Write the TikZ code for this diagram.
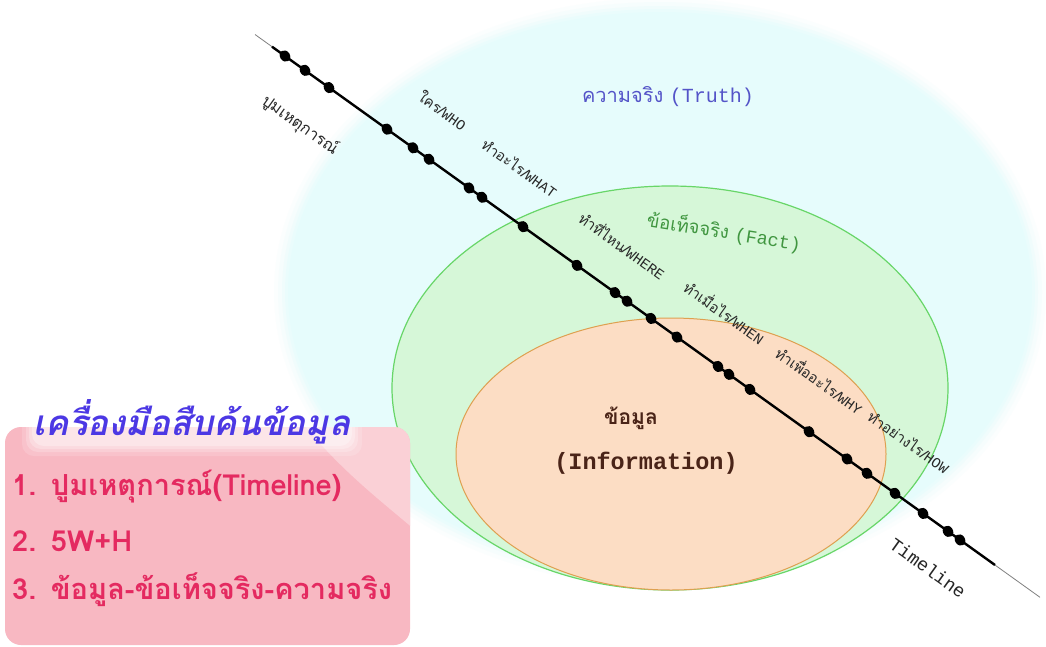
\documentclass[tikz,border=0pt]{standalone}
\usepackage{fontspec}
\setmainfont{Liberation Sans}
\newfontfamily\thaif[Script=Thai]{Loma}
\newfontfamily\monof{Liberation Mono}
\usetikzlibrary{shapes.geometric}
\definecolor{truthfill}{RGB}{230,252,252}
\definecolor{factfill}{RGB}{214,247,216}
\definecolor{factline}{RGB}{104,214,104}
\definecolor{infofill}{RGB}{252,221,196}
\definecolor{infoline}{RGB}{222,160,80}
\definecolor{truthtxt}{RGB}{84,84,200}
\definecolor{facttxt}{RGB}{64,150,64}
\definecolor{infotxt}{RGB}{74,36,24}
\definecolor{labtxt}{RGB}{40,40,40}
\definecolor{boxfill}{RGB}{248,184,194}
\definecolor{boxlight}{RGB}{251,214,220}
\definecolor{titletxt}{RGB}{76,56,228}
\definecolor{itemtxt}{RGB}{228,42,96}
\tikzset{
  dotnode/.style={ellipse, fill=black, inner sep=0pt, minimum width=12pt, minimum height=10pt, rotate=-55},
  wlabel/.style={text=labtxt, rotate=-35.6, inner sep=0pt, font=\fontsize{14.5}{16}\selectfont},
  itemtext/.style={text=itemtxt, anchor=west, inner sep=0pt, font=\thaif\bfseries\fontsize{29}{33}\selectfont},
  titlestyle/.style={text=titletxt, inner sep=0pt, font=\thaif\bfseries\itshape\fontsize{35}{40}\selectfont},
}
\begin{document}
\begin{tikzpicture}[x=1pt,y=-1pt]
\useasboundingbox (0,0) rectangle (1046,646);
\fill[white] (0,0) rectangle (1046,646);
% Truth ellipse with soft edge
\foreach \d/\o in {14/0.12, 10/0.2, 6/0.35, 3/0.5} {
  \fill[truthfill, opacity=\o] (660,292) ellipse [x radius={372+\d}, y radius={280+\d}];
}
\node[ellipse, fill=truthfill, minimum width=744pt, minimum height=560pt, inner sep=0pt] (truth) at (660,292) {};
% Fact ellipse
\node[ellipse, fill=factfill, draw=factline, line width=1.2pt, minimum width=556pt, minimum height=404pt, inner sep=0pt] (fact) at (670,388) {};
% Information ellipse
\node[ellipse, fill=infofill, draw=infoline, line width=1pt, minimum width=430pt, minimum height=272pt, inner sep=0pt] (info) at (671,454) {};
% Timeline
\coordinate (ls) at (255,34.5);
\coordinate (le) at (1040,597.3);
\coordinate (bs) at (272,46.7);
\coordinate (be) at (995,565);
\draw[gray, line width=0.8pt] (ls) -- (le);
\draw[black, line width=2.4pt] (bs) -- (be);
\foreach \x [count=\i] in {285,305,329,387,413,429,469,482,523,577,615,627,651,677,718,729,750,809,847,867,895,923,948,960} {
  \node[dotnode] (d\i) at ({\x},{56+0.717*(\x-285)}) {};
}
% Labels along the line
\node[wlabel, font=\thaif\fontsize{16}{18}\selectfont] (pum) at (300,125) {ปูมเหตุการณ์};
\node[wlabel] (who) at (443,110) {\thaif ใคร/\monof WHO};
\node[wlabel] (what) at (520,168) {\thaif ทำอะไร/\monof WHAT};
\node[wlabel] (where) at (623,245) {\thaif ทำที่ไหน/\monof WHERE};
\node[wlabel] (when) at (725,312) {\thaif ทำเมื่อไร/\monof WHEN};
\node[wlabel] (why) at (820,380) {\thaif ทำเพื่ออะไร/\monof WHY};
\node[wlabel] (how) at (909,442) {\thaif ทำอย่างไร/\monof HOW};
\node[wlabel, text=black!85, font=\monof\fontsize{18.5}{20}\selectfont] (tl) at (928,568) {Timeline};
% Region labels
\node[text=truthtxt, font=\fontsize{20}{22}\selectfont] (truthlab) at (668,97) {\thaif ความจริง \monof (Truth)};
\node[text=facttxt, rotate=-9, font=\fontsize{18.5}{20}\selectfont] (factlab) at (724,232) {\thaif ข้อเท็จจริง \monof (Fact)};
\node[text=infotxt, font=\thaif\bfseries\fontsize{21}{23}\selectfont] (infolab1) at (631,418) {ข้อมูล};
\node[text=infotxt, font=\monof\bfseries\fontsize{23.5}{25}\selectfont] (infolab2) at (646,463) {(Information)};
% Tool box
\node[fill=boxfill, rounded corners=16pt, minimum width=405pt, minimum height=218pt, inner sep=0pt] (box) at (207.5,536) {};
\begin{scope}
  \clip[rounded corners=16pt] (5,427) rectangle (410,645);
  \fill[boxlight, opacity=0.8] (300,420) .. controls (340,470) and (380,500) .. (415,530) -- (415,420) -- cycle;
  % soft white glow behind the title
  \foreach \d/\o in {10/0.15, 6/0.2, 3/0.25, 0/0.3} {
    \fill[white, opacity=\o, rounded corners=12pt] ({32-\d},{402-\d}) rectangle ({352+\d},{446+\d});
  }
\end{scope}
\node[titlestyle] (title) at (192,422) {เครื่องมือสืบค้นข้อมูล};
\node[itemtext] (item1) at (12,487) {1.\hspace{0.5em}ปูมเหตุการณ์(Timeline)};
\node[itemtext] (item2) at (12,541) {2.\hspace{0.5em}5W+H};
\node[itemtext] (item3) at (12,590) {3.\hspace{0.5em}ข้อมูล-ข้อเท็จจริง-ความจริง};
\end{tikzpicture}
\end{document}
